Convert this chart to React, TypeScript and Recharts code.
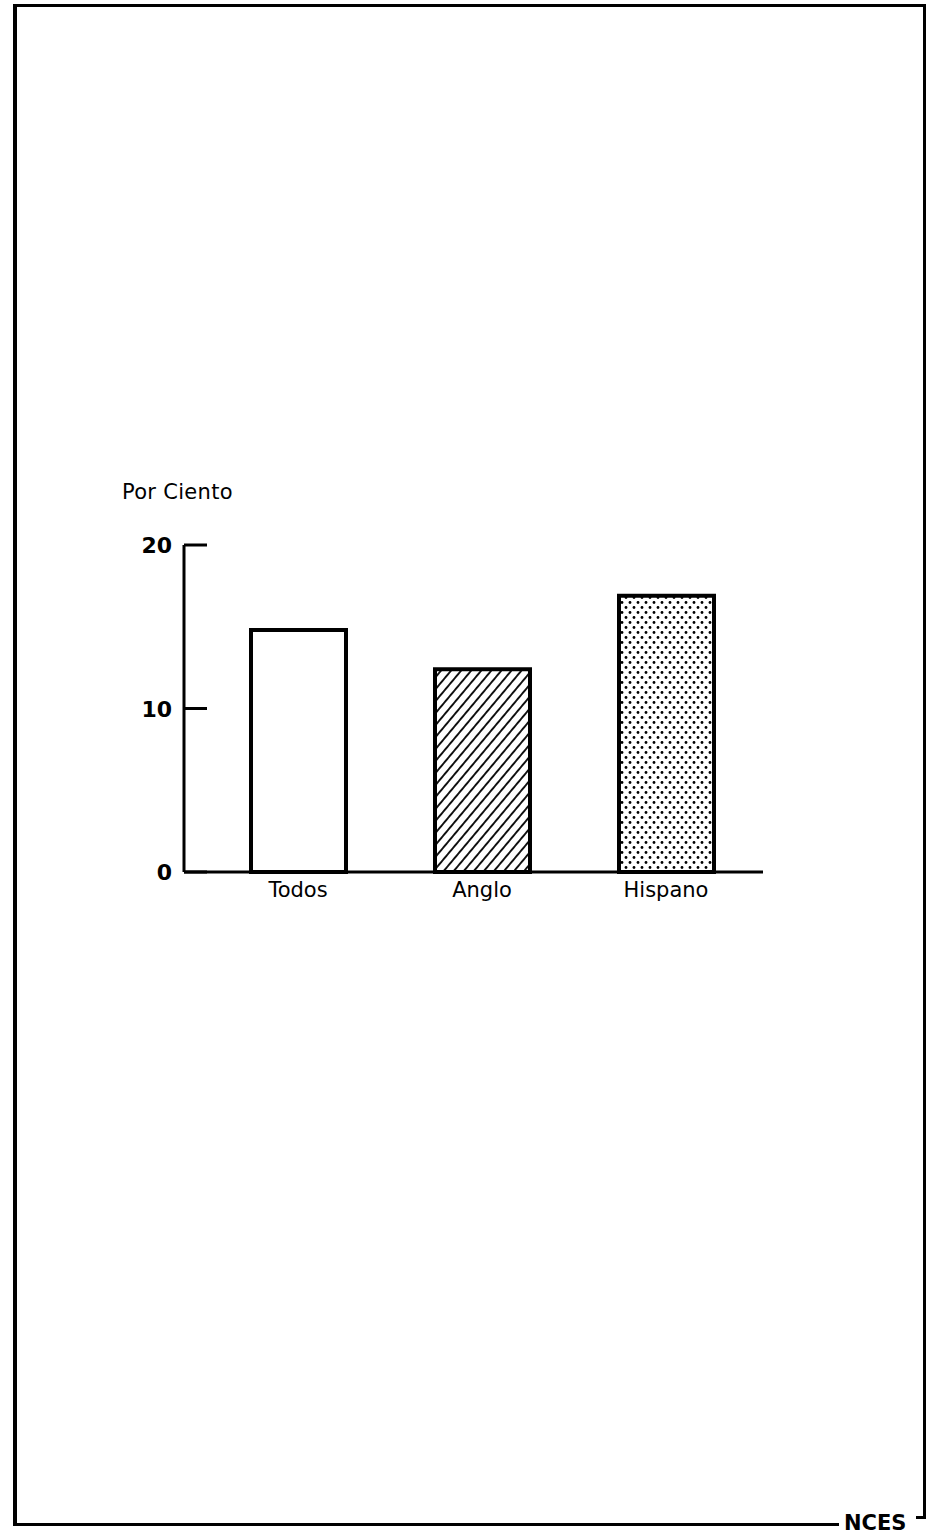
import { BarChart, Bar, XAxis, YAxis, Cell } from 'recharts';

const categories = ['Todos', 'Anglo', 'Hispano'];
const percentValues = [14.8, 12.4, 16.9];
const yTicks = [0, 10, 20];
const yLabel = 'Por Ciento';
const footer = 'NCES';

const fills = ['#ffffff', 'url(#hatch)', 'url(#dots)'];

const data = categories.map((name, i) => ({ name, value: percentValues[i] }));

const FONT = '"DejaVu Sans", sans-serif';

// y ticks: bold number on the left, short tick mark going into the plot
function YTick(props: any) {
  const { x, y, payload } = props;
  const axisX = x + 12;
  return (
    <g>
      <text
        x={x}
        y={y}
        dy={8}
        textAnchor="end"
        fontFamily={FONT}
        fontWeight="bold"
        fontSize={22}
        fill="#000"
      >
        {payload.value}
      </text>
      <line x1={axisX} x2={axisX + 23} y1={y} y2={y} stroke="#000" strokeWidth={3} />
    </g>
  );
}

export default function App() {
  return (
    <div
      style={{
        position: 'absolute',
        left: 0,
        top: 0,
        width: 932,
        height: 1536,
        background: '#fff',
        fontFamily: FONT,
      }}
    >
      {/* page frame */}
      <div style={{ position: 'absolute', left: 13, top: 4, width: 913, height: 3, background: '#000' }} />
      <div style={{ position: 'absolute', left: 13, top: 4, width: 4, height: 1522, background: '#000' }} />
      <div style={{ position: 'absolute', left: 923, top: 4, width: 3, height: 1514, background: '#000' }} />
      <div style={{ position: 'absolute', left: 916, top: 1516, width: 10, height: 3, background: '#000' }} />
      <div style={{ position: 'absolute', left: 13, top: 1523, width: 826, height: 3, background: '#000' }} />
      <div
        style={{
          position: 'absolute',
          left: 844,
          top: 1510,
          fontSize: 21,
          fontWeight: 'bold',
          color: '#000',
          lineHeight: '26px',
        }}
      >
        {footer}
      </div>

      <div
        style={{
          position: 'absolute',
          left: 122,
          top: 479,
          fontSize: 21,
          letterSpacing: 0.3,
          color: '#000',
          lineHeight: '26px',
        }}
      >
        {yLabel}
      </div>

      <div style={{ position: 'absolute', left: 100, top: 520 }}>
        <BarChart
          width={700}
          height={420}
          data={data}
          margin={{ top: 25, right: 37, left: 24, bottom: 28 }}
          barCategoryGap={0}
        >
          <defs>
            <pattern
              id="hatch"
              patternUnits="userSpaceOnUse"
              width={7.7}
              height={10}
              patternTransform="rotate(40)"
            >
              <rect width={7.7} height={10} fill="#fff" />
              <line x1={3.85} x2={3.85} y1={0} y2={10} stroke="#000" strokeWidth={1.8} />
            </pattern>
            <pattern id="dots" patternUnits="userSpaceOnUse" width={8} height={10}>
              <rect width={8} height={10} fill="#fff" />
              <circle cx={2} cy={2.5} r={1.4} fill="#000" />
              <circle cx={6} cy={7.5} r={1.4} fill="#000" />
            </pattern>
          </defs>
          <XAxis
            dataKey="name"
            padding={{ left: 22, right: 5 }}
            tickLine={false}
            tickSize={0}
            tickMargin={10}
            axisLine={{ stroke: '#000', strokeWidth: 3 }}
            tick={{ fontFamily: FONT, fontSize: 21, fill: '#000' }}
            height={40}
          />
          <YAxis
            domain={[0, 20]}
            ticks={yTicks}
            width={60}
            tickLine={false}
            tickSize={0}
            tickMargin={12}
            axisLine={{ stroke: '#000', strokeWidth: 3 }}
            tick={<YTick />}
          />
          <Bar dataKey="value" barSize={95} stroke="#000" strokeWidth={4} isAnimationActive={false}>
            {data.map((d, i) => (
              <Cell key={d.name} fill={fills[i]} />
            ))}
          </Bar>
        </BarChart>
      </div>
    </div>
  );
}
